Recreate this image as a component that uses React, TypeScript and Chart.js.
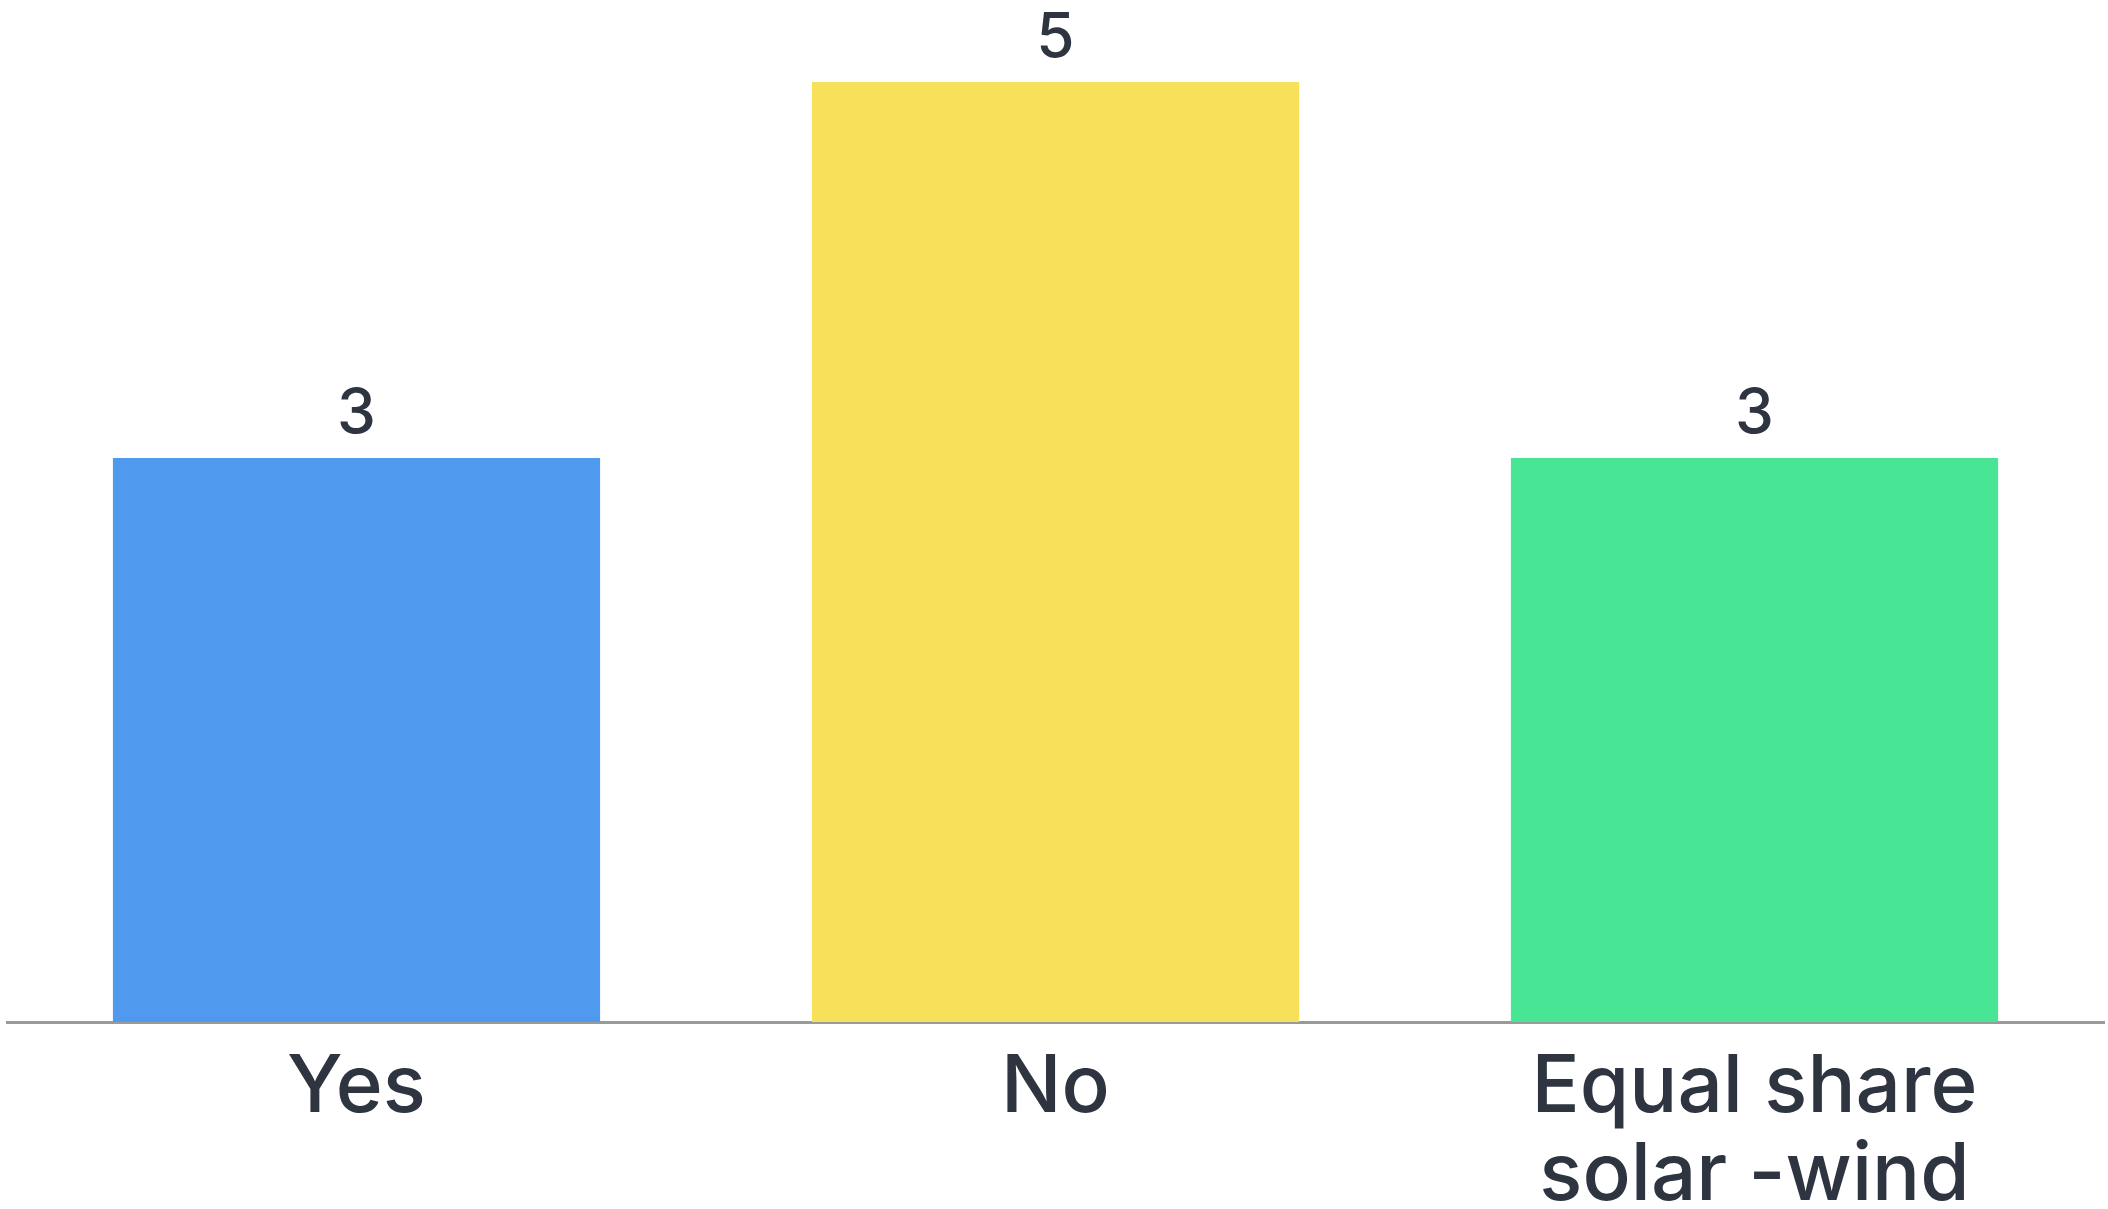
import React, { useEffect, useRef } from "react";
import { Chart, registerables } from "chart.js";

Chart.register(...registerables);

const categories: (string | string[])[] = ["Yes", "No", ["Equal share", "solar -wind"]];
const values: number[] = [3, 5, 3];
const barColors: string[] = ["#4f9aee", "#f7e05a", "#48e595"];

const TEXT = "#2e3440";
const FONT = "Inter, Lato, sans-serif";

const valueLabels = {
  id: "valueLabels",
  afterDatasetsDraw(chart: any) {
    const ctx = chart.ctx;
    const meta = chart.getDatasetMeta(0);
    ctx.save();
    ctx.fillStyle = TEXT;
    ctx.font = `500 62px ${FONT}`;
    ctx.textAlign = "center";
    ctx.textBaseline = "alphabetic";
    meta.data.forEach((bar: any, i: number) => {
      ctx.fillText(String(values[i]), bar.x, bar.y - 25);
    });
    ctx.restore();
  },
};

export default function App() {
  const ref = useRef<HTMLCanvasElement>(null);
  useEffect(() => {
    document.body.style.margin = "0";
    const chart = new Chart(ref.current!, {
      type: "bar",
      data: {
        labels: categories,
        datasets: [
          {
            data: values,
            backgroundColor: barColors,
            borderWidth: 0,
            barPercentage: 0.697,
            categoryPercentage: 1,
          },
        ],
      },
      options: {
        animation: false,
        responsive: false,
        maintainAspectRatio: false,
        layout: { padding: { top: 82, left: 7, right: 4, bottom: 0 } },
        plugins: { legend: { display: false }, tooltip: { enabled: false } },
        scales: {
          x: {
            grid: { display: false, drawTicks: false },
            border: { display: true, color: "#9a9a9a", width: 3 },
            ticks: {
              color: TEXT,
              padding: 22,
              font: { family: FONT, size: 80, weight: "500" as any, lineHeight: 1.1 },
              maxRotation: 0,
              autoSkip: false,
            },
            afterFit: (scale: any) => {
              scale.height = 187;
            },
          },
          y: {
            display: false,
            min: 0,
            max: 5,
          },
        },
      },
      plugins: [valueLabels],
    });
    return () => chart.destroy();
  }, []);
  return (
    <div style={{ width: 2108, height: 1209, background: "#fff" }}>
      <canvas ref={ref} width={2108} height={1209} style={{ display: "block" }} />
    </div>
  );
}
